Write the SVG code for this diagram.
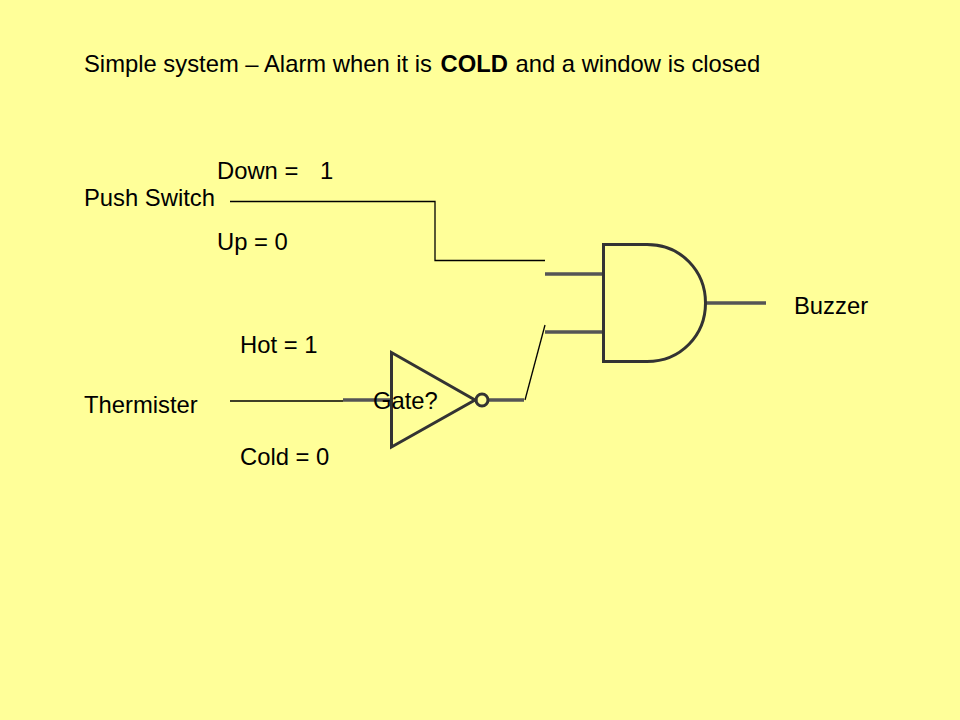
<svg xmlns="http://www.w3.org/2000/svg" width="960" height="720" viewBox="0 0 960 720">
<style>
text{font-family:"Liberation Sans",Arial,sans-serif;font-size:23.8px;fill:#000}
.wire{fill:none;stroke:#000;stroke-width:1.3}
.sym{fill:none;stroke:#333;stroke-width:3}
.lead{fill:none;stroke:#555;stroke-width:3.4}
</style>
<rect id="background" width="960" height="720" fill="#FFFF99"/>
<g id="connectors">
<path class="wire" d="M230 201.500H435V260.500H545"/>
<path class="wire" d="M230 401H343"/>
<path class="wire" d="M525 400L545 325"/>
</g>
<g id="and-gate">
<path class="lead" d="M545 274H603M545 332H603M706 303H766"/>
<path class="sym" d="M603.500 244.500V361.500H647C681 361.500 705.500 335 705.500 303C705.500 271 681 244.500 647 244.500Z"/>
</g>
<g id="not-gate">
<path class="lead" d="M343 400H391M489 400H524"/>
<path class="sym" d="M391.500 352.500V447L475 400Z"/>
<circle class="sym" cx="482" cy="400" r="6"/>
<text x="373" y="409">Gate?</text>
</g>
<g id="title"><text x="84" y="72">Simple system –<tspan x="264">Alarm when it is</tspan><tspan x="440.500" font-weight="bold">COLD</tspan><tspan x="515.500">and a window is closed</tspan></text></g>
<g id="push-switch">
<text x="84" y="206">Push Switch</text>
<text x="217" y="179">Down =</text>
<text x="320" y="179">1</text>
<text x="217" y="250">Up = 0</text>
</g>
<g id="thermister">
<text x="84" y="413">Thermister</text>
<text x="240" y="353">Hot = 1</text>
<text x="240" y="465">Cold = 0</text>
</g>
<g id="buzzer"><text x="794" y="314">Buzzer</text></g>
</svg>
